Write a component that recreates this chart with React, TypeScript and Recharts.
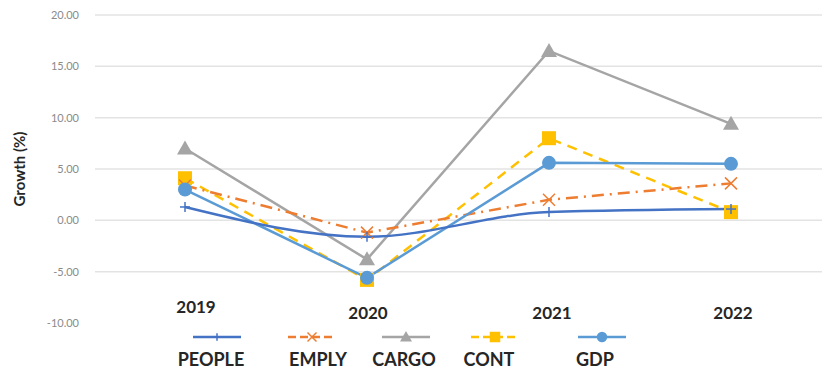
import { LineChart, Line, XAxis, YAxis, CartesianGrid } from 'recharts';

const years = ['2019', '2020', '2021', '2022'];
const people = [1.3, -1.6, 0.8, 1.1];
const emply = [3.4, -1.2, 2.0, 3.6];
const cargo = [7.0, -3.8, 16.5, 9.4];
const cont = [4.1, -5.8, 8.0, 0.8];
const gdp = [3.0, -5.6, 5.6, 5.5];
const yTicks = [-10, -5, 0, 5, 10, 15, 20];
const gridValues = [-5, 0, 5, 10, 15, 20];

const data = years.map((year, i) => ({
  year,
  PEOPLE: people[i],
  EMPLY: emply[i],
  CARGO: cargo[i],
  CONT: cont[i],
  GDP: gdp[i],
}));

const FONT = 'Lato, "Open Sans", sans-serif';

type Marker = 'plus' | 'x' | 'triangle' | 'square' | 'circle';

const drawMarker = (kind: Marker, cx: number, cy: number, color: string, key?: string, s = 1) => {
  switch (kind) {
    case 'plus':
      return (
        <g key={key}>
          <line x1={cx - 5 * s} y1={cy} x2={cx + 5 * s} y2={cy} stroke={color} strokeWidth={1.5} />
          <line x1={cx} y1={cy - 5 * s} x2={cx} y2={cy + 5 * s} stroke={color} strokeWidth={1.5} />
        </g>
      );
    case 'x':
      return (
        <g key={key}>
          <line x1={cx - 6 * s} y1={cy - 6 * s} x2={cx + 6 * s} y2={cy + 6 * s} stroke={color} strokeWidth={1.5} />
          <line x1={cx - 6 * s} y1={cy + 6 * s} x2={cx + 6 * s} y2={cy - 6 * s} stroke={color} strokeWidth={1.5} />
        </g>
      );
    case 'triangle':
      return <polygon key={key} points={`${cx},${cy - 8 * s} ${cx + 8 * s},${cy + 6 * s} ${cx - 8 * s},${cy + 6 * s}`} fill={color} />;
    case 'square':
      return <rect key={key} x={cx - 7 * s} y={cy - 7 * s} width={14 * s} height={14 * s} fill={color} />;
    default:
      return <circle key={key} cx={cx} cy={cy} r={7 * s} fill={color} />;
  }
};

const series: { key: string; color: string; dash?: string; marker: Marker; type: 'linear' | 'monotone' }[] = [
  { key: 'PEOPLE', color: '#4472C4', marker: 'plus', type: 'monotone' },
  { key: 'EMPLY', color: '#ED7D31', dash: '12 6 2 6', marker: 'x', type: 'linear' },
  { key: 'CARGO', color: '#A5A5A5', marker: 'triangle', type: 'linear' },
  { key: 'CONT', color: '#FFC000', dash: '10 7', marker: 'square', type: 'linear' },
  { key: 'GDP', color: '#5B9BD5', marker: 'circle', type: 'linear' },
];

// drawing order: later ones on top
const drawOrder = ['CARGO', 'CONT', 'EMPLY', 'GDP', 'PEOPLE'];

const legendPos = [
  { icon: 217, label: 211 },
  { icon: 312, label: 318 },
  { icon: 406, label: 404 },
  { icon: 495, label: 489 },
  { icon: 602, label: 595 },
];

const ChartLegend = () => (
  <svg width={840} height={45} style={{ position: 'absolute', left: 0, top: 327 }}>
    {series.map((s, i) => {
      const p = legendPos[i];
      return (
        <g key={s.key}>
          <line x1={p.icon - 24} y1={10} x2={p.icon + 24} y2={10} stroke={s.color} strokeWidth={2.5} strokeDasharray={s.dash ? '8 4' : undefined} />
          {drawMarker(s.marker, p.icon, 10, s.color, undefined, 0.75)}
          <text x={p.label} y={39} textAnchor="middle" fontFamily={FONT} fontWeight={700} fontSize={18} fill="#262626">
            {s.key}
          </text>
        </g>
      );
    })}
  </svg>
);

const tickShift = [11, 1, 3, 2];

const YearTick = ({ x, y, payload, index }: any) => (
  <text
    x={x + tickShift[index]}
    y={index === 0 ? y - 18 : y - 12}
    textAnchor="middle"
    fontFamily={FONT}
    fontWeight={700}
    fontSize={17}
    fill="#262626"
  >
    {payload.value}
  </text>
);

export default function App() {
  return (
    <div style={{ position: 'absolute', left: 0, top: 0, width: 840, height: 372, background: '#fff' }}>
      <LineChart width={840} height={372} data={data} margin={{ top: 15, right: 18, left: 0, bottom: 48 }}>
        <CartesianGrid vertical={false} stroke="#e3e3e3" strokeWidth={1.5} horizontalValues={gridValues} />
        <XAxis
          dataKey="year"
          axisLine={false}
          tickLine={false}
          tick={<YearTick />}
          interval={0}
          height={1}
          padding={{ left: 90, right: 91 }}
        />
        <YAxis
          width={95}
          domain={[-10, 20]}
          ticks={yTicks}
          axisLine={false}
          tickLine={false}
          tickSize={0}
          tickMargin={16}
          tickFormatter={(v: number) => v.toFixed(2)}
          tick={{ fontSize: 11, fill: '#8a8a8a', fontFamily: FONT }}
          label={{
            value: 'Growth (%)',
            angle: -90,
            position: 'insideLeft',
            offset: 20,
            style: { fontSize: 15, fontWeight: 700, fill: '#262626', fontFamily: FONT, textAnchor: 'middle' },
          }}
        />
        {drawOrder.map((k) => {
          const s = series.find((d) => d.key === k)!;
          return (
            <Line
              key={s.key}
              type={s.type}
              dataKey={s.key}
              stroke={s.color}
              strokeWidth={2.5}
              strokeDasharray={s.dash}
              isAnimationActive={false}
              dot={(props: any) => drawMarker(s.marker, props.cx, props.cy, s.color, `${s.key}-${props.index}`)}
              activeDot={false}
            />
          );
        })}
      </LineChart>
      <ChartLegend />
    </div>
  );
}
